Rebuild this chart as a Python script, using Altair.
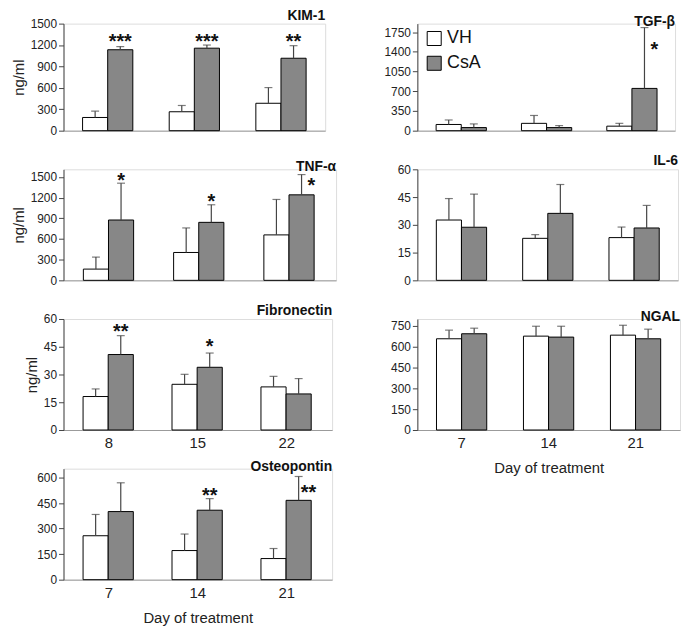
import altair as alt
import pandas as pd

FONT = "Liberation Sans"
groups = ["VH", "CsA"]
days_a = ["8", "15", "22"]
days_b = ["7", "14", "21"]

# ---- values (mean, top of error bar) ----
kim_vh = [185, 265, 384];      kim_vh_top = [273, 353, 604]
kim_csa = [1134, 1156, 1015];  kim_csa_top = [1178, 1200, 1191]
kim_stars = [("8", "***", 1310, 0), ("15", "***", 1310, 0), ("22", "**", 1310, 0)]

tnf_vh = [163, 404, 659];      tnf_vh_top = [337, 760, 1173]
tnf_csa = [875, 841, 1240];    tnf_csa_top = [1409, 1096, 1534]
tnf_stars = [("8", "*", 1514, 0), ("15", "*", 1211, 0), ("22", "*", 1442, 1)]

fib_vh = [18.1, 24.7, 23.3];   fib_vh_top = [22.2, 30.1, 29.0]
fib_csa = [40.8, 33.9, 19.5];  fib_csa_top = [51.0, 41.6, 27.8]
fib_stars = [("8", "**", 55.5, 0), ("15", "*", 47.5, 0)]

ost_vh = [258, 171, 124];      ost_vh_top = [383, 268, 183]
ost_csa = [400, 408, 466];     ost_csa_top = [569, 476, 606]
ost_stars = [("14", "**", 522, 0), ("21", "**", 540, 1)]

tgf_vh = [110, 130, 80];       tgf_vh_top = [190, 270, 130]
tgf_csa = [55, 55, 750];       tgf_csa_top = [120, 90, 1830]
tgf_stars = [("21", "*", 1514, 1)]

il6_vh = [32.6, 22.7, 23.1];   il6_vh_top = [44.2, 24.7, 28.8]
il6_csa = [28.7, 36.2, 28.3];  il6_csa_top = [46.6, 51.8, 40.5]

ngal_vh = [655, 674, 681];     ngal_vh_top = [717, 745, 752]
ngal_csa = [691, 667, 655];    ngal_csa_top = [731, 745, 724]


def panel(title, days, vh, vh_top, csa, csa_top, stars, domain, ticks, width,
          xlabels=False, xtitle=None, ytitle=None, legend=False, height=112):
    rows = []
    for i, d in enumerate(days):
        rows.append({"day": d, "group": "VH", "mean": vh[i], "top": vh_top[i]})
        rows.append({"day": d, "group": "CsA", "mean": csa[i], "top": csa_top[i]})
    df = pd.DataFrame(rows)
    sdf = pd.DataFrame([{"day": s[0], "group": "CsA", "label": s[1], "sy": s[2], "side": s[3]}
                        for s in stars]) if stars else None

    xaxis = alt.Axis(labels=xlabels, ticks=False, domain=True, domainColor="#9a9a9a",
                     labelFontSize=15, labelColor="#222", labelPadding=6, labelAngle=0,
                     title=xtitle, titleFontSize=15, titleFontWeight="normal",
                     titleColor="#222", titlePadding=10)
    x = alt.X("day:N", sort=days, axis=xaxis,
              scale=alt.Scale(paddingInner=0.42, paddingOuter=0.22))
    xo = alt.XOffset("group:N", sort=groups,
                     scale=alt.Scale(paddingInner=0, paddingOuter=0))
    yaxis = alt.Axis(values=ticks, grid=False, labelFontSize=12, labelColor="#222",
                     tickColor="#444", domainColor="#444", tickSize=5, labelPadding=2,
                     labelOverlap=False, format="d",
                     title=ytitle, titleFontSize=15, titleFontWeight="normal",
                     titleColor="#222", titlePadding=4)
    yscale = alt.Scale(domain=domain, nice=False, zero=True)

    def Y(field):
        return alt.Y(field, scale=yscale, axis=yaxis)

    if legend:
        leg = alt.Legend(title=None, orient="none", legendX=8, legendY=6,
                         symbolType="square", symbolSize=200, symbolStrokeColor="black",
                         symbolStrokeWidth=1, labelFontSize=18, labelColor="#111",
                         rowPadding=5, labelOffset=4)
    else:
        leg = None
    fill = alt.Fill("group:N", sort=groups,
                    scale=alt.Scale(domain=groups, range=["white", "#878787"]), legend=leg)

    base = alt.Chart(df)
    bars = base.mark_bar(stroke="black", strokeWidth=1).encode(
        x=x, xOffset=xo, y=Y("mean:Q"), fill=fill)
    err = base.mark_rule(color="#444", strokeWidth=1.2).encode(
        x=x, xOffset=xo, y=Y("mean:Q"), y2="top:Q")
    cap = base.mark_tick(color="#444", size=8, thickness=1.2).encode(
        x=x, xOffset=xo, y=Y("top:Q"))
    layers = [bars, err, cap]
    if sdf is not None:
        st = alt.Chart(sdf)
        above = st.transform_filter("datum.side == 0").mark_text(
            font=FONT, fontSize=20, fontWeight="bold", color="#111", baseline="alphabetic", dy=11
        ).encode(x=x, xOffset=xo, y=Y("sy:Q"), text="label:N")
        side = st.transform_filter("datum.side == 1").mark_text(
            font=FONT, fontSize=20, fontWeight="bold", color="#111", baseline="alphabetic",
            dy=11, dx=10
        ).encode(x=x, xOffset=xo, y=Y("sy:Q"), text="label:N")
        layers += [above, side]
    return alt.layer(*layers).properties(
        width=width, height=height,
        title=alt.TitleParams(title, anchor="end", fontSize=14, fontWeight="bold",
                              font=FONT, color="#111", offset=-5, frame="group"))


kim = panel("KIM-1", days_a, kim_vh, kim_vh_top, kim_csa, kim_csa_top, kim_stars,
            [0, 1500], [0, 300, 600, 900, 1200, 1500], 264, ytitle="ng/ml", height=108)
tnf = panel("TNF-α", days_a, tnf_vh, tnf_vh_top, tnf_csa, tnf_csa_top, tnf_stars,
            [0, 1610], [0, 300, 600, 900, 1200, 1500], 275, ytitle="ng/ml")
fib = panel("Fibronectin", days_a, fib_vh, fib_vh_top, fib_csa, fib_csa_top, fib_stars,
            [0, 60], [0, 15, 30, 45, 60], 271, xlabels=True, ytitle="ng/ml")
ost = panel("Osteopontin", days_b, ost_vh, ost_vh_top, ost_csa, ost_csa_top, ost_stars,
            [0, 652], [0, 150, 300, 450, 600], 271, xlabels=True, xtitle="Day of treatment")
tgf = panel("TGF-β", days_b, tgf_vh, tgf_vh_top, tgf_csa, tgf_csa_top, tgf_stars,
            [0, 1900], [0, 350, 700, 1050, 1400, 1750], 260, legend=True, height=108)
il6 = panel("IL-6", days_b, il6_vh, il6_vh_top, il6_csa, il6_csa_top, [],
            [0, 60], [0, 15, 30, 45, 60], 263)
ngal = panel("NGAL", days_b, ngal_vh, ngal_vh_top, ngal_csa, ngal_csa_top, [],
             [0, 797], [0, 150, 300, 450, 600, 750], 265, xlabels=True,
             xtitle="Day of treatment")

left = alt.vconcat(kim, tnf, fib, ost, spacing=39, bounds="flush")
right = alt.vconcat(tgf, il6, ngal, spacing=39, bounds="flush")

chart = alt.hconcat(left, right, spacing=46).resolve_scale(
    fill="independent").resolve_legend(fill="independent").properties(
    padding={"left": 2, "top": -3, "right": 0, "bottom": 0}
).configure_view(stroke="#9a9a9a", strokeWidth=1).configure(font=FONT, background="white")

chart.save("out.html", embed_options={"renderer": "svg", "actions": False})
